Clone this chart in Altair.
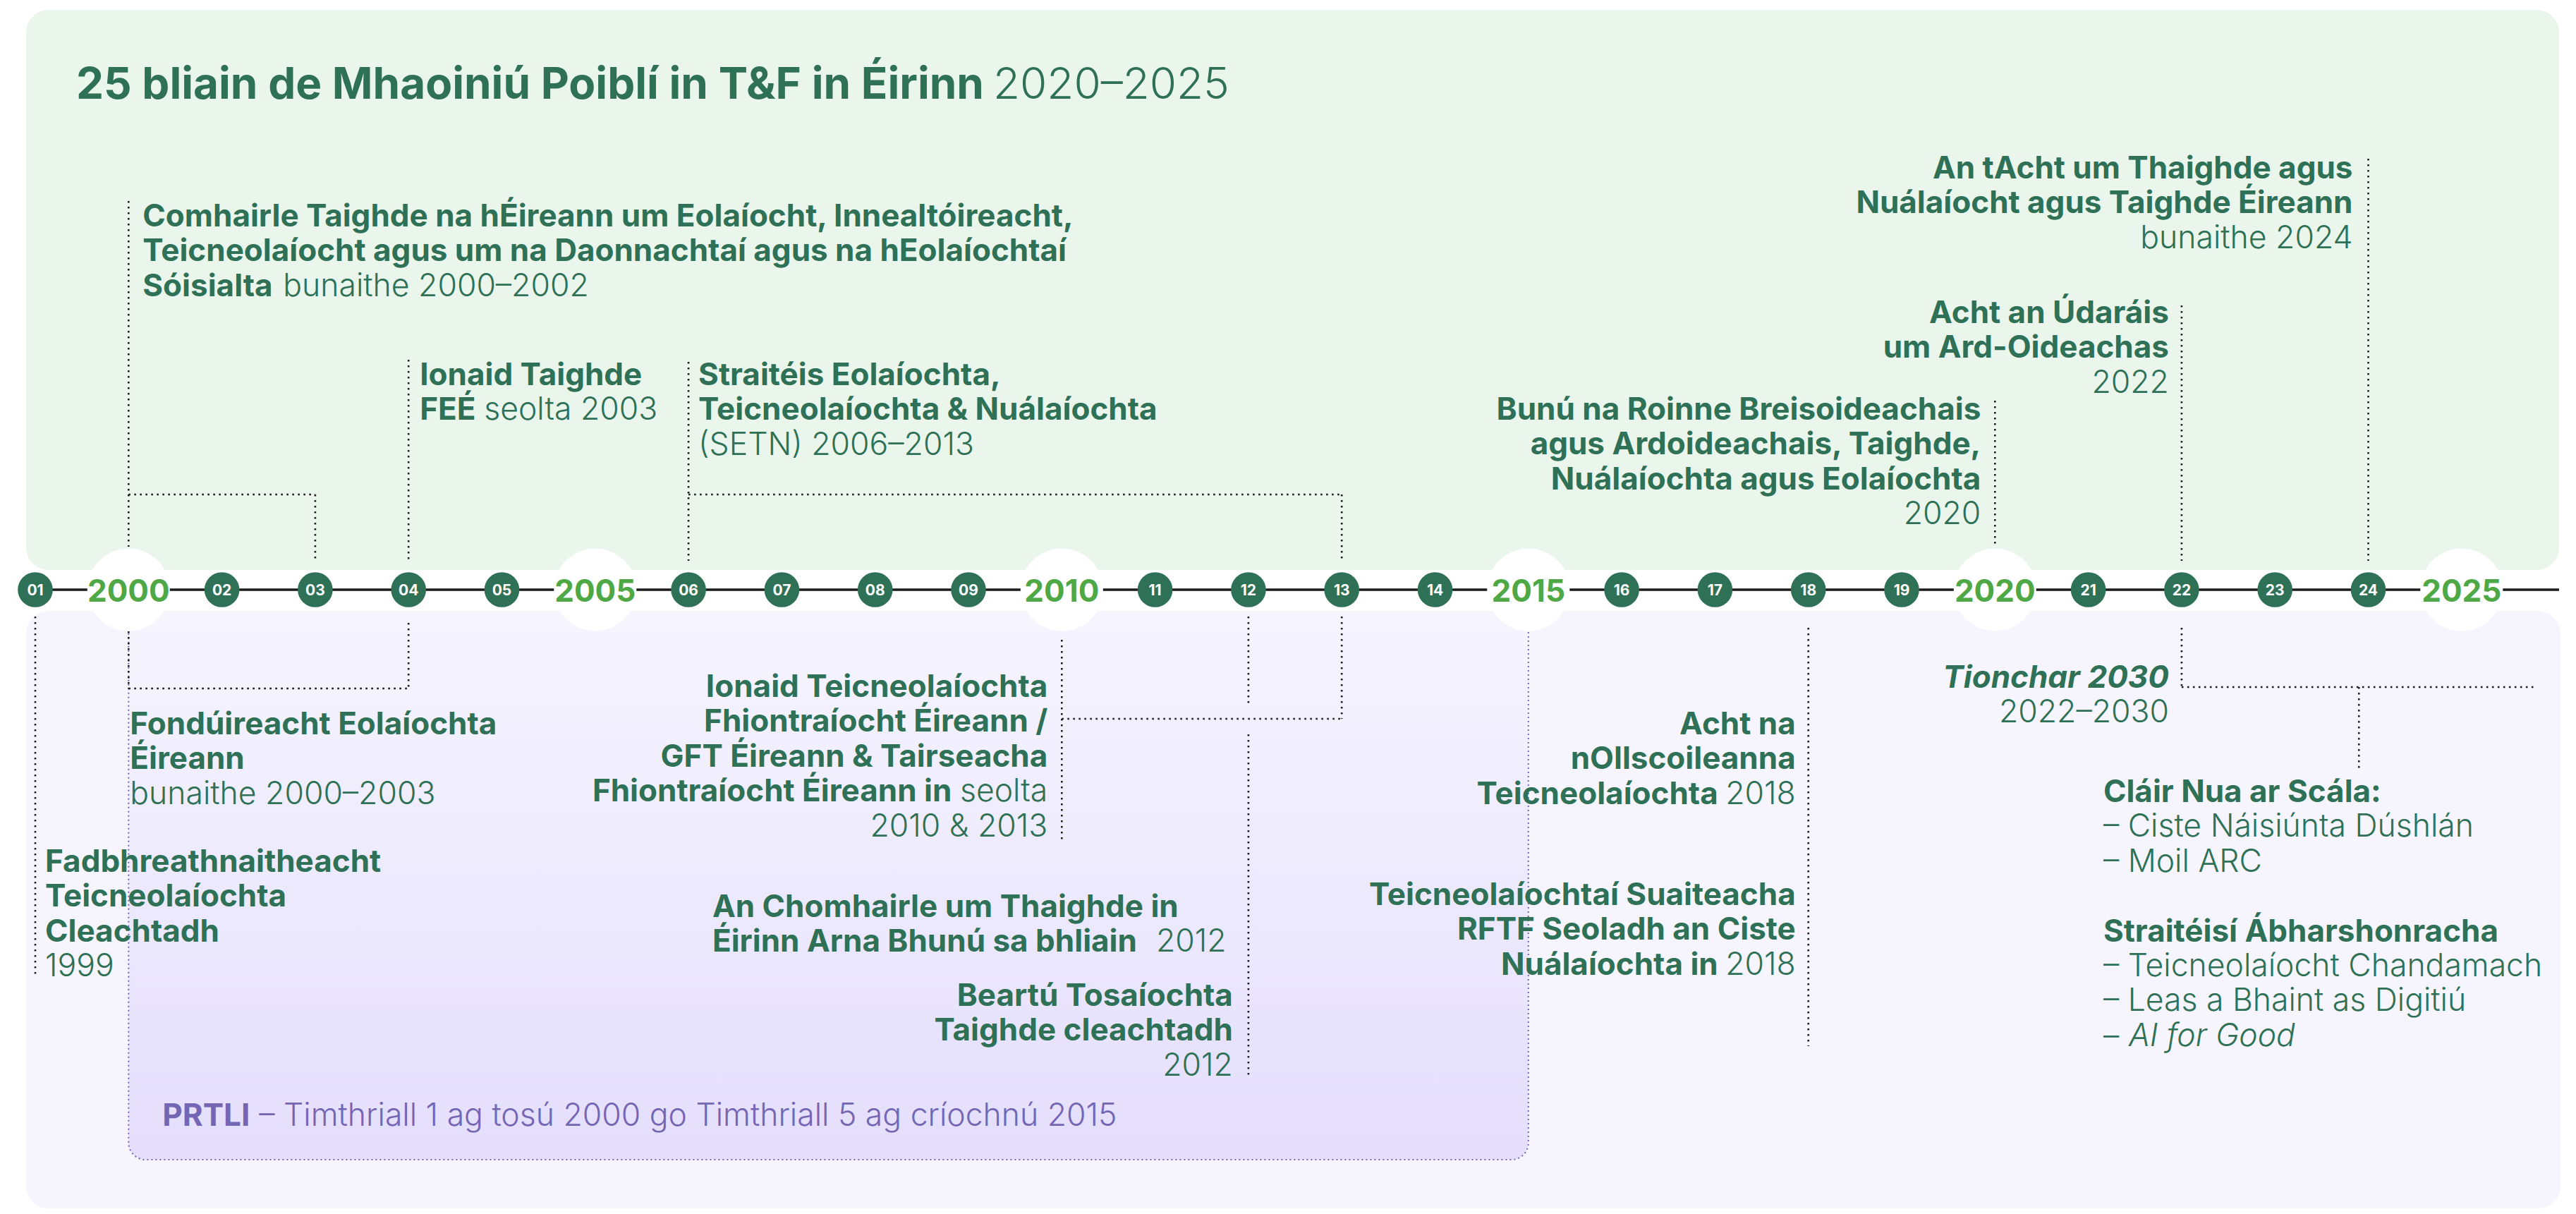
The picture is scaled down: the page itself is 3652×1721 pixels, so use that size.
import altair as alt
import pandas as pd

# ---------------- data ----------------
positions = list(range(1999, 2026))
tick_labels = ["01", "2000", "02", "03", "04", "05", "2005", "06", "07", "08", "09",
               "2010", "11", "12", "13", "14", "2015", "16", "17", "18", "19",
               "2020", "21", "22", "23", "24", "2025"]

title_bold = "25 bliain de Mhaoiniú Poiblí in T&F in Éirinn"
title_light = "2020–2025"

comhairle = [[("Comhairle Taighde na hÉireann um Eolaíocht, Innealtóireacht,", "b")],
             [("Teicneolaíocht agus um na Daonnachtaí agus na hEolaíochtaí", "b")],
             [("Sóisialta", "b"), ("bunaithe 2000–2002", "l")]]
ionaid_fee = [[("Ionaid Taighde", "b")], [("FEÉ", "b"), ("seolta 2003", "l")]]
setn = [[("Straitéis Eolaíochta,", "b")], [("Teicneolaíochta & Nuálaíochta", "b")],
        [("(SETN) 2006–2013", "l")]]
roinn = [[("Bunú na Roinne Breisoideachais", "b")], [("agus Ardoideachais, Taighde,", "b")],
         [("Nuálaíochta agus Eolaíochta", "b")], [("2020", "l")]]
udaras = [[("Acht an Údaráis", "b")], [("um Ard-Oideachas", "b")], [("2022", "l")]]
tacht = [[("An tAcht um Thaighde agus", "b")], [("Nuálaíocht agus Taighde Éireann", "b")],
         [("bunaithe 2024", "l")]]
fadbh = [[("Fadbhreathnaitheacht", "b")], [("Teicneolaíochta", "b")], [("Cleachtadh", "b")],
         [("1999", "l")]]
fondu = [[("Fondúireacht Eolaíochta", "b")], [("Éireann", "b")], [("bunaithe 2000–2003", "l")]]
ionaid_teic = [[("Ionaid Teicneolaíochta", "b")], [("Fhiontraíocht Éireann /", "b")],
               [("GFT Éireann & Tairseacha", "b")],
               [("Fhiontraíocht Éireann in", "b"), ("seolta", "l")], [("2010 & 2013", "l")]]
chomhairle = [[("An Chomhairle um Thaighde in", "b")],
              [("Éirinn Arna Bhunú sa bhliain", "b"), ("2012", "l")]]
beartu = [[("Beartú Tosaíochta", "b")], [("Taighde cleachtadh", "b")], [("2012", "l")]]
ollscoil = [[("Acht na", "b")], [("nOllscoileanna", "b")],
            [("Teicneolaíochta", "b"), ("2018", "l")]]
suaiteacha = [[("Teicneolaíochtaí Suaiteacha", "b")], [("RFTF Seoladh an Ciste", "b")],
              [("Nuálaíochta in", "b"), ("2018", "l")]]
tionchar = [[("Tionchar 2030", "bi")], [("2022–2030", "l")]]
clair = [[("Cláir Nua ar Scála:", "b")], [("– Ciste Náisiúnta Dúshlán", "l")], [("– Moil ARC", "l")],
         [], [("Straitéisí Ábharshonracha", "b")], [("– Teicneolaíocht Chandamach", "l")],
         [("– Leas a Bhaint as Digitiú", "l")], [("– ", "l"), ("AI for Good", "li")]]
prtli = [[("PRTLI", "pb"), ("– Timthriall 1 ag tosú 2000 go Timthriall 5 ag críochnú 2015", "pl")]]

# dotted connectors: (year from, year to, level top, level bottom)
top_links = [(2000, 2000, 285, 775), (2000, 2002, 701, 701), (2002, 2002, 701, 795),
             (2003, 2003, 510, 798), (2006, 2006, 513, 795), (2006, 2013, 701, 701),
             (2013, 2013, 701, 795), (2020, 2020, 568, 775), (2022, 2022, 433, 795),
             (2024, 2024, 225, 795)]
bottom_links = [(1999, 1999, 874, 1384), (2000, 2000, 895, 976), (2000, 2003, 976, 976),
                (2003, 2003, 883, 976), (2010, 2010, 907, 1192), (2010, 2013, 1019, 1019),
                (2013, 2013, 874, 1019), (2012, 2012, 874, 997), (2012, 2012, 1041, 1526),
                (2018, 2018, 890, 1483), (2022, 2022, 890, 974), (2022, 2025.78, 974, 974),
                (2023.9, 2023.9, 974, 1093)]

# ---------------- layout ----------------
W, H = 3636, 1705
PPY = 132.3          # pixels per year
X1999 = 50           # page x of first position
LH = 49.4            # line height


def px2yr(px):
    return 1999 + (px - X1999) / PPY


XS = alt.Scale(domain=[px2yr(8), px2yr(8 + W)], nice=False, zero=False)
YS = alt.Scale(domain=[8, 8 + H], reverse=True, nice=False, zero=False)

DG = "#2e7157"
YG = "#4ea845"
PUR = "#7466b4"
GREEN_BG = "#eaf5eb"
PURPLE_BG = "#f6f5fe"
PRTLI_BOTTOM = "#e4defc"

# block -> (anchor year, dx px, first baseline, align, {(line, seg): offset px})
LAYOUT = [
    (comhairle, 2000, 20, 321, "left", {(2, 1): 199}),
    (ionaid_fee, 2003, 16, 546, "left", {(1, 1): 91}),
    (setn, 2006, 14, 546, "left", {}),
    (roinn, 2020, -20, 595, "right", {}),
    (udaras, 2022, -18, 458, "right", {}),
    (tacht, 2024, -22, 253, "right", {}),
    (fadbh, 1999, 14, 1236, "left", {}),
    (fondu, 2000, 2, 1041, "left", {}),
    (ionaid_teic, 2010, -20, 988, "right", {(3, 0): -136}),
    (chomhairle, 2012, -760, 1300, "left", {(1, 1): 629}),
    (beartu, 2012, -22, 1426, "right", {}),
    (ollscoil, 2018, -18, 1041, "right", {(2, 0): -110}),
    (suaiteacha, 2018, -18, 1283, "right", {(2, 0): -110}),
    (tionchar, 2022, -18, 975, "right", {}),
    (clair, 2022, -111, 1137, "left", {(7, 1): 36}),
    (prtli, 2000, 48, 1596, "left", {(0, 1): 137}),
]

rows = []
for lines, yr, dx, y0, align, offs in LAYOUT:
    for i, line in enumerate(lines):
        for j, (txt, st) in enumerate(line):
            off = offs.get((i, j), 0)
            rows.append(dict(x=yr + (dx + off) / PPY, y=y0 + i * LH, text=txt, style=st, align=align))
rows.append(dict(x=px2yr(108), y=140, text=title_bold, style="tb", align="left"))
rows.append(dict(x=px2yr(108 + 1300), y=140, text=title_light, style="tl", align="left"))
text_df = pd.DataFrame(rows)

FS = 44
STYLES = {
    "b": dict(fontWeight=700, fontSize=FS, color=DG),
    "l": dict(fontWeight=300, fontSize=FS + 0.5, color=DG),
    "bi": dict(fontWeight=700, fontSize=FS, color=DG, fontStyle="italic"),
    "li": dict(fontWeight=300, fontSize=FS + 0.5, color=DG, fontStyle="italic"),
    "pb": dict(fontWeight=700, fontSize=FS, color=PUR),
    "pl": dict(fontWeight=300, fontSize=FS + 0.5, color=PUR),
    "tb": dict(fontWeight=700, fontSize=62, color=DG),
    "tl": dict(fontWeight=300, fontSize=62, color=DG),
}

layers = []

# background panels
panels = pd.DataFrame([
    dict(x=px2yr(37), x2=px2yr(3628), y=14, y2=808, fill=GREEN_BG),
    dict(x=px2yr(37), x2=px2yr(3630), y=866, y2=8 + H, fill=PURPLE_BG),
])
layers.append(alt.Chart(panels).mark_rect(cornerRadius=32).encode(
    x=alt.X("x:Q", scale=XS, axis=None), x2="x2:Q",
    y=alt.Y("y:Q", scale=YS, axis=None), y2="y2:Q",
    color=alt.Color("fill:N", scale=None)))

# PRTLI gradient box
prtli_box = pd.DataFrame([dict(x=2000, x2=2015, y=866, y2=1644)])
grad = {"gradient": "linear", "x1": 0, "x2": 0, "y1": 0, "y2": 1,
        "stops": [{"offset": 0, "color": PURPLE_BG}, {"offset": 1, "color": PRTLI_BOTTOM}]}
layers.append(alt.Chart(prtli_box).mark_rect(color=grad, cornerRadiusBottomLeft=24,
                                             cornerRadiusBottomRight=24).encode(
    x=alt.X("x:Q", scale=XS, axis=None), x2="x2:Q",
    y=alt.Y("y:Q", scale=YS, axis=None), y2="y2:Q"))
prtli_border = pd.DataFrame([dict(x=2000, x2=2015, y=836, y2=1644)])
layers.append(alt.Chart(prtli_border).mark_rect(fillOpacity=0, stroke=PUR, strokeWidth=2,
                                                strokeDash=[2, 4], cornerRadius=24).encode(
    x=alt.X("x:Q", scale=XS, axis=None), x2="x2:Q",
    y=alt.Y("y:Q", scale=YS, axis=None), y2="y2:Q"))

# dotted connectors
links = pd.DataFrame([dict(x=a, x2=b, y=c, y2=d) for a, b, c, d in top_links + bottom_links])
layers.append(alt.Chart(links).mark_rule(color="#1c1c1c", strokeWidth=2.6, strokeDash=[2.6, 5.4]).encode(
    x=alt.X("x:Q", scale=XS, axis=None), x2="x2:Q",
    y=alt.Y("y:Q", scale=YS, axis=None), y2="y2:Q"))

# timeline
tl = pd.DataFrame([dict(x=positions[0], x2=px2yr(3628), y=836)])
layers.append(alt.Chart(tl).mark_rule(color="#1b1b1b", strokeWidth=3.5).encode(
    x=alt.X("x:Q", scale=XS, axis=None), x2="x2:Q",
    y=alt.Y("y:Q", scale=YS, axis=None)))

ticks = pd.DataFrame(dict(x=positions, label=tick_labels))
ticks["major"] = ticks["label"].str.len() == 4
ticks["y"] = 836
major = ticks[ticks["major"]]
minor = ticks[~ticks["major"]]

layers.append(alt.Chart(major).mark_circle(size=13700, color="white", opacity=1).encode(
    x=alt.X("x:Q", scale=XS, axis=None), y=alt.Y("y:Q", scale=YS, axis=None)))
layers.append(alt.Chart(minor).mark_circle(size=2463, color=DG, opacity=1).encode(
    x=alt.X("x:Q", scale=XS, axis=None), y=alt.Y("y:Q", scale=YS, axis=None)))
layers.append(alt.Chart(minor).mark_text(font="Inter", fontSize=21, fontWeight=700, color="white",
                                         align="center", baseline="alphabetic", dy=7.5).encode(
    x=alt.X("x:Q", scale=XS, axis=None), y=alt.Y("y:Q", scale=YS, axis=None), text="label:N"))
layers.append(alt.Chart(major).mark_text(font="Inter", fontSize=44, fontWeight=700, color=YG,
                                         align="center", baseline="alphabetic", dy=16.5).encode(
    x=alt.X("x:Q", scale=XS, axis=None), y=alt.Y("y:Q", scale=YS, axis=None), text="label:N"))

# annotation texts
for (st, al), sub in text_df.groupby(["style", "align"]):
    props = dict(STYLES[st])
    layers.append(alt.Chart(sub).mark_text(font="Inter", align=al, baseline="alphabetic", **props).encode(
        x=alt.X("x:Q", scale=XS, axis=None), y=alt.Y("y:Q", scale=YS, axis=None), text="text:N"))

chart = alt.layer(*layers).properties(
    width=W, height=H, padding=0, background="white",
    autosize=alt.AutoSizeParams(type="none")
).configure_view(stroke=None)

chart.save("out.html", embed_options={"renderer": "svg", "actions": False})
